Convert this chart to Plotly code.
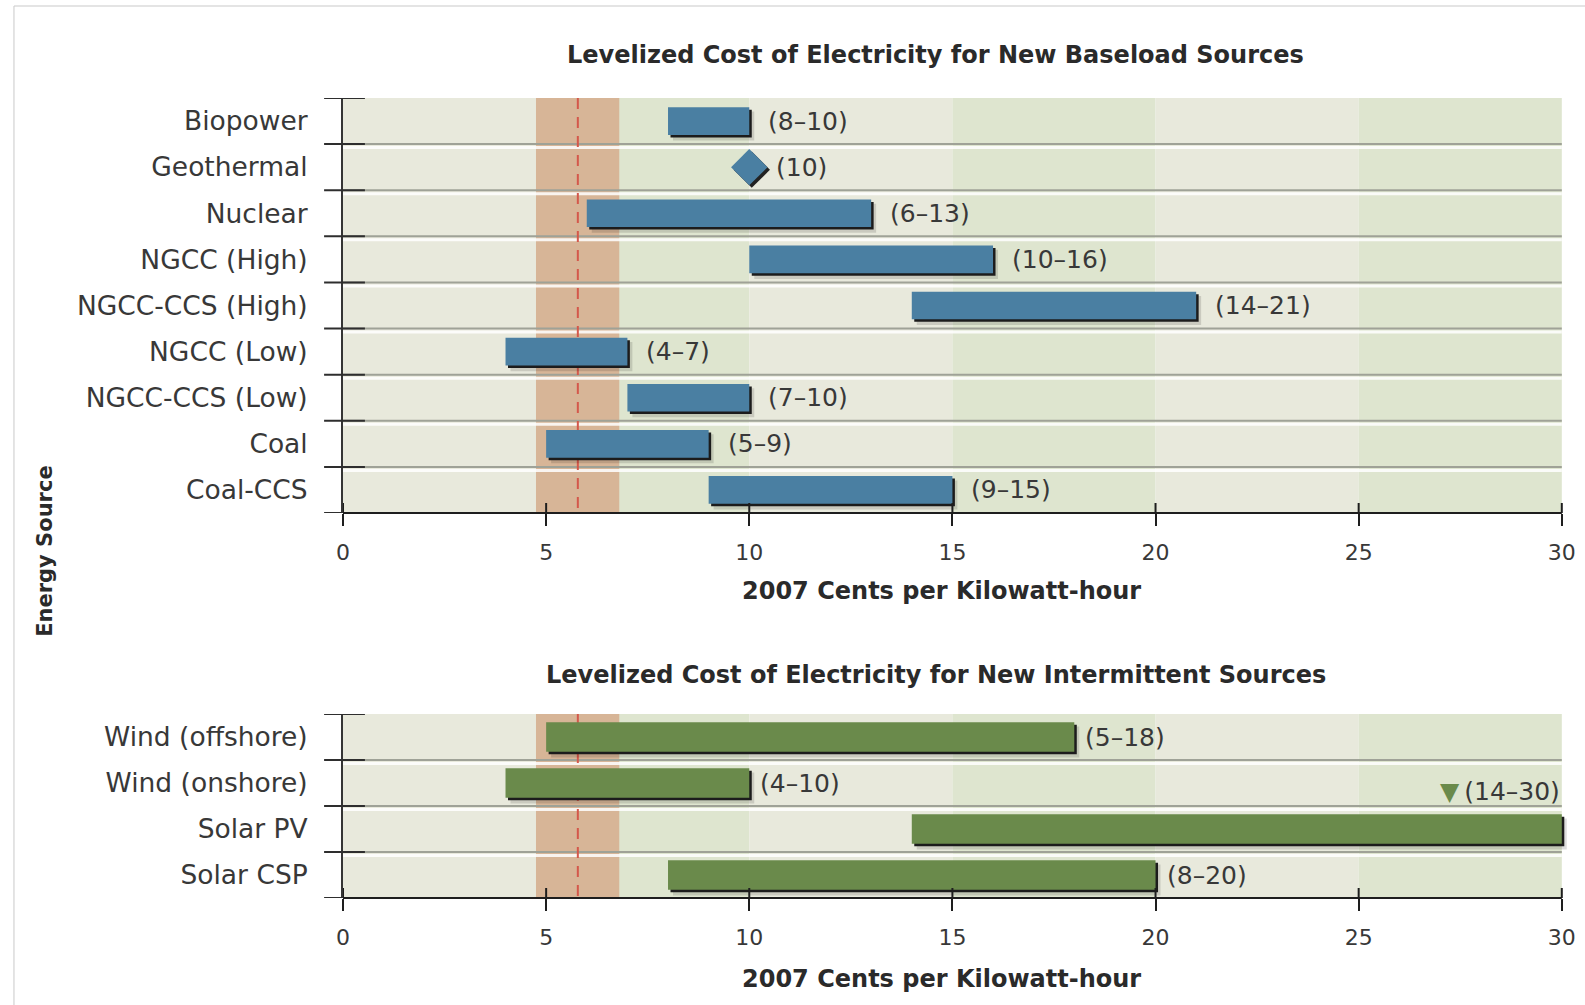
import plotly.graph_objects as go

# ---------------- data ----------------
baseload_sources = ["Biopower", "Geothermal", "Nuclear", "NGCC (High)", "NGCC-CCS (High)",
                    "NGCC (Low)", "NGCC-CCS (Low)", "Coal", "Coal-CCS"]
baseload_low = [8, 10, 6, 10, 14, 4, 7, 5, 9]
baseload_high = [10, 10, 13, 16, 21, 7, 10, 9, 15]

intermittent_sources = ["Wind (offshore)", "Wind (onshore)", "Solar PV", "Solar CSP"]
intermittent_low = [5, 4, 14, 8]
intermittent_high = [18, 10, 30, 20]
intermittent_offscale = [False, False, True, False]

# band of current retail price (cents/kWh) with its midpoint
price_band_low = 4.75
price_band_high = 6.8
price_band_mid = 5.78

x_ticks = [0, 5, 10, 15, 20, 25, 30]
x_max = 30

title_top = "Levelized Cost of Electricity for New Baseload Sources"
title_bottom = "Levelized Cost of Electricity for New Intermittent Sources"
x_title = "2007 Cents per Kilowatt-hour"
y_title = "Energy Source"

# ---------------- styling ----------------
W, H = 1585, 1005
FONT = "DejaVu Sans"
TEXT = "#383838"
BLUE = "#4a7fa2"
GREEN = "#6a8a4b"
BAND_LIGHT = "#e8e9dc"
BAND_GREEN = "#dee5cf"
PRICE_FILL = "#d7b597"
PRICE_LINE = "#d4584b"

X0_PX, XMAX_PX = 337.5, 1561.7
PX = (XMAX_PX - X0_PX) / x_max          # pixels per cent
X_VIEW = x_max + 0.35                    # room for the drop shadow past 30
X_DOMAIN = [X0_PX / W, (X0_PX + X_VIEW * PX) / W]
DOMAIN_PX = X_VIEW * PX

panels = [
    dict(names=baseload_sources, low=baseload_low, high=baseload_high,
         offscale=[False] * len(baseload_sources), color=BLUE,
         top=98, bottom=513, bar_w=0.6, label_shift=17,
         title=title_top, title_y=55, xtitle_y=591, ax="", ),
    dict(names=intermittent_sources, low=intermittent_low, high=intermittent_high,
         offscale=intermittent_offscale, color=GREEN,
         top=714, bottom=898, bar_w=0.64, label_shift=9,
         title=title_bottom, title_y=675, xtitle_y=978.5, ax="2"),
]

fig = go.Figure()
shapes, annotations = [], []

for p in panels:
    n = len(p["names"])
    row_px = (p["bottom"] - p["top"]) / n
    panel_px = p["bottom"] - p["top"]
    xr, yr = "x" + p["ax"], "y" + p["ax"]
    idx = list(range(n))

    # bars (ranges) vs. single point estimates
    bar_i = [i for i in idx if p["low"][i] != p["high"][i]]
    pt_i = [i for i in idx if p["low"][i] == p["high"][i]]
    lows = [p["low"][i] for i in bar_i]
    spans = [p["high"][i] - p["low"][i] for i in bar_i]

    # soft drop shadow, dark edge, then the bar itself
    for dpx, col, extra in [(5, "rgba(0,0,0,0.13)", 0.03), (2.5, "#1c1c1c", 0), (0, p["color"], 0)]:
        fig.add_trace(go.Bar(
            orientation="h", y=[i + dpx / row_px for i in bar_i],
            base=[v + dpx / PX for v in lows], x=spans,
            width=p["bar_w"] + extra, marker=dict(color=col, line=dict(width=0)),
            xaxis=xr, yaxis=yr, hoverinfo="skip", showlegend=False))

    if pt_i:
        for dpx, col in [(2.5, "#222222"), (0, p["color"])]:
            fig.add_trace(go.Scatter(
                x=[p["low"][i] + dpx / PX for i in pt_i], y=[i + dpx / row_px for i in pt_i],
                mode="markers", marker=dict(symbol="diamond", size=28, color=col, line=dict(width=0)),
                xaxis=xr, yaxis=yr, hoverinfo="skip", showlegend=False))

    # value labels
    for i in idx:
        lo, hi = p["low"][i], p["high"][i]
        txt = f"({lo})" if lo == hi else f"({lo}\u2013{hi})"
        if p["offscale"][i]:
            annotations.append(dict(
                x=hi, y=i, xref=xr, yref=yr, xanchor="right", yanchor="middle", yshift=38,
                text=f"<span style='color:{p['color']}'>\u25bc</span>\u2009" + txt, showarrow=False,
                font=dict(family=FONT, size=25, color=TEXT)))
        else:
            shift = p["label_shift"] + (8 if lo == hi else 0)
            annotations.append(dict(
                x=hi, y=i, xref=xr, yref=yr, xanchor="left", yanchor="middle", xshift=shift,
                text=txt, showarrow=False, font=dict(family=FONT, size=25, color=TEXT)))

    # alternating 5-cent background bands
    for k in range(len(x_ticks) - 1):
        shapes.append(dict(type="rect", xref=xr, yref=yr, x0=x_ticks[k], x1=x_ticks[k + 1],
                           y0=-0.5, y1=n - 0.5, layer="below", line=dict(width=0),
                           fillcolor=BAND_LIGHT if k % 2 == 0 else BAND_GREEN))
    # current price band
    shapes.append(dict(type="rect", xref=xr, yref=yr, x0=price_band_low, x1=price_band_high,
                       y0=-0.5, y1=n - 0.5, layer="below", line=dict(width=0), fillcolor=PRICE_FILL))
    # row separators with a light highlight under each
    for i in range(n - 1):
        yb = i + 0.5
        shapes.append(dict(type="line", xref=xr, yref=yr, x0=0, x1=x_max, y0=yb, y1=yb,
                           layer="below", line=dict(color="#9fa297", width=2)))
        yw = yb + 3.5 / row_px
        shapes.append(dict(type="line", xref=xr, yref=yr, x0=0, x1=x_max, y0=yw, y1=yw,
                           layer="below", line=dict(color="rgba(255,255,255,0.85)", width=3)))
    # dashed midpoint of the price band
    shapes.append(dict(type="line", xref=xr, yref=yr, x0=price_band_mid, x1=price_band_mid,
                       y0=-0.5, y1=n - 0.5, layer="below",
                       line=dict(color=PRICE_LINE, width=2, dash="11px,8px")))
    # category boundary ticks crossing the vertical axis
    for i in range(n + 1):
        shapes.append(dict(type="line", xref=xr + " domain", yref=yr,
                           x0=-19 / DOMAIN_PX, x1=22 / DOMAIN_PX, y0=i - 0.5, y1=i - 0.5,
                           line=dict(color="#2e2e2e", width=2)))
    # horizontal axis line and the inner half of its ticks
    shapes.append(dict(type="line", xref=xr, yref=yr + " domain", x0=0, x1=x_max, y0=0, y1=0,
                       line=dict(color="#1e1e1e", width=2)))
    for t in x_ticks:
        shapes.append(dict(type="line", xref=xr, yref=yr + " domain", x0=t, x1=t,
                           y0=0, y1=10 / panel_px, line=dict(color="#1e1e1e", width=2)))

    # panel title and axis title
    annotations.append(dict(x=933 / W, y=1 - p["title_y"] / H, xref="paper", yref="paper",
                            text=f"<b>{p['title']}</b>", showarrow=False, xanchor="center",
                            yanchor="middle", font=dict(family=FONT, size=24, color="#2a2a2a")))
    annotations.append(dict(x=939 / W, y=1 - p["xtitle_y"] / H, xref="paper", yref="paper",
                            text=f"<b>{x_title}</b>", showarrow=False, xanchor="center",
                            yanchor="middle", font=dict(family=FONT, size=24, color="#2a2a2a")))

    ydom = [1 - p["bottom"] / H, 1 - p["top"] / H]
    fig.update_layout({
        "xaxis" + p["ax"]: dict(domain=X_DOMAIN, range=[0, X_VIEW], anchor=yr,
                                tickvals=x_ticks, ticks="outside", ticklen=12, tickwidth=2,
                                tickcolor="#1e1e1e", showline=False, showgrid=False, zeroline=False,
                                ticklabelstandoff=8,
                                tickfont=dict(family=FONT, size=22, color=TEXT)),
        "yaxis" + p["ax"]: dict(domain=ydom, range=[n - 0.5, -0.5], anchor=xr,
                                tickvals=idx, ticktext=p["names"], ticks="",
                                showline=True, linecolor="#353535", linewidth=2,
                                showgrid=False, zeroline=False, ticklabelstandoff=28,
                                tickfont=dict(family=FONT, size=26.5, color=TEXT)),
    })

# shared vertical axis title
annotations.append(dict(x=38 / W, y=1 - 551 / H, xref="paper", yref="paper",
                        text=f"<b>{y_title}</b>", textangle=-90, showarrow=False,
                        xanchor="center", yanchor="middle",
                        font=dict(family=FONT, size=21, color="#2a2a2a")))

# thin frame around the figure
shapes.append(dict(type="rect", xref="paper", yref="paper", x0=7 / W, x1=1.02,
                   y0=-0.02, y1=1 - 6 / H, line=dict(color="#c9c9c9", width=1)))

fig.update_layout(
    width=W, height=H, margin=dict(l=0, r=0, t=0, b=0),
    paper_bgcolor="white", plot_bgcolor="white", barmode="overlay",
    showlegend=False, shapes=shapes, annotations=annotations,
)

fig.write_html("out.html")
